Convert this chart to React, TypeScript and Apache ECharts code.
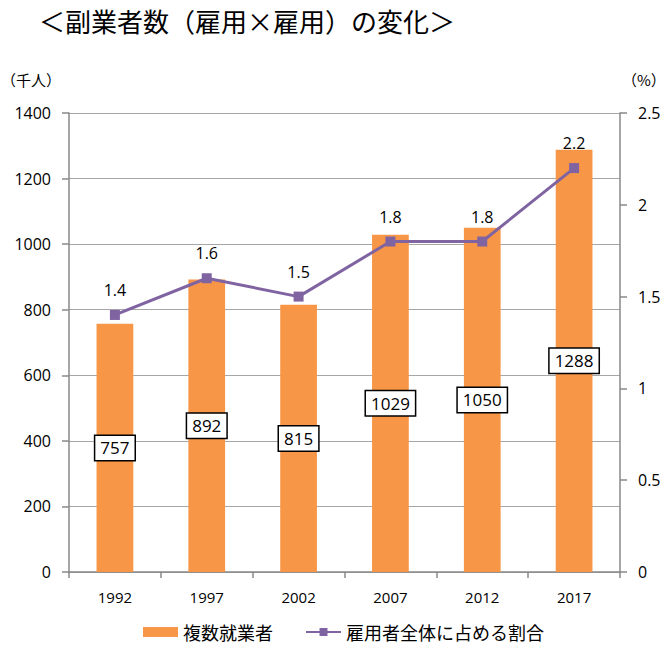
import React, { useEffect, useRef } from "react";
import * as echarts from "echarts";

const years = ["1992", "1997", "2002", "2007", "2012", "2017"];
const workers = [757, 892, 815, 1029, 1050, 1288];
const shares = [1.4, 1.6, 1.5, 1.8, 1.8, 2.2];
const titleText = "＜副業者数（雇用×雇用）の変化＞";
const barName = "複数就業者";
const lineName = "雇用者全体に占める割合";

const FONT = "'Noto Sans CJK JP', 'Noto Sans', sans-serif";
const NUMFONT = "'Open Sans', 'Noto Sans', sans-serif";

export default function App() {
  const ref = useRef<HTMLDivElement>(null);
  useEffect(() => {
    if (!ref.current) return;
    const chart = echarts.init(ref.current, null, { renderer: "svg" });
    chart.setOption({
      animation: false,
      backgroundColor: "#ffffff",
      title: {
        text: titleText,
        left: 34,
        top: 2,
        textStyle: { fontFamily: FONT, fontSize: 26, fontWeight: "normal", color: "#000" },
      },
      legend: {
        bottom: 2,
        left: 138,
        itemGap: 32,
        itemWidth: 35,
        itemHeight: 10,
        textStyle: { fontFamily: FONT, fontSize: 18, color: "#000", padding: [0, 0, 0, 0] },
        data: [
          { name: barName, icon: "rect" },
          { name: lineName },
        ],
      },
      grid: { left: 69, right: 48, top: 113, bottom: 76, outerBoundsMode: "none", containLabel: false },
      xAxis: {
        type: "category",
        data: years,
        axisLine: { lineStyle: { color: "#888", width: 1.5 } },
        axisTick: { show: true, length: 6, alignWithLabel: false, lineStyle: { color: "#888", width: 1.5 } },
        axisLabel: { margin: 17, fontFamily: NUMFONT, fontSize: 15, color: "#000" },
      },
      yAxis: [
        {
          type: "value",
          min: 0,
          max: 1400,
          interval: 200,
          name: "（千人）",
          nameLocation: "end",
          nameGap: 26,
          nameTextStyle: { fontFamily: FONT, fontSize: 15, color: "#000", align: "right", padding: [0, 8, 0, 0] },
          axisLine: { show: true, lineStyle: { color: "#888", width: 1.5 } },
          axisTick: { show: true, length: 7, lineStyle: { color: "#888", width: 1.5 } },
          axisLabel: { margin: 18, fontFamily: NUMFONT, fontSize: 16, color: "#000", formatter: (v: number) => String(v) },
          splitLine: { lineStyle: { color: "#a6a6a6", width: 1.2 } },
        },
        {
          type: "value",
          min: 0,
          max: 2.5,
          interval: 0.5,
          name: "（%）",
          nameLocation: "end",
          nameGap: 26,
          nameTextStyle: { fontFamily: FONT, fontSize: 15, color: "#000", align: "left", padding: [0, 0, 0, 2] },
          axisLine: { show: true, lineStyle: { color: "#888", width: 1.5 } },
          axisTick: { show: true, length: 7, lineStyle: { color: "#888", width: 1.5 } },
          axisLabel: { margin: 18, fontFamily: NUMFONT, fontSize: 16, color: "#000", formatter: (v: number) => String(v) },
          splitLine: { show: false },
        },
      ],
      series: [
        {
          name: barName,
          type: "bar",
          data: workers,
          barWidth: "40%",
          itemStyle: { color: "#F79646" },
          label: {
            show: true,
            position: "inside",
            fontFamily: NUMFONT,
            fontSize: 17,
            color: "#000",
            backgroundColor: "#fff",
            borderColor: "#000",
            borderWidth: 1.5,
            padding: [4, 5, 3, 5],
          },
          z: 2,
        },
        {
          name: lineName,
          type: "line",
          yAxisIndex: 1,
          data: shares,
          symbol: "rect",
          symbolSize: 10,
          lineStyle: { color: "#8064A2", width: 3 },
          itemStyle: { color: "#8064A2" },
          label: {
            show: true,
            position: "top",
            distance: 12,
            fontFamily: NUMFONT,
            fontSize: 16,
            color: "#000",
            formatter: (p: any) => p.value.toFixed(1),
          },
          z: 3,
        },
      ],
    });
    return () => chart.dispose();
  }, []);
  return <div ref={ref} style={{ width: 668, height: 648, position: "absolute", left: 0, top: 0 }} />;
}
